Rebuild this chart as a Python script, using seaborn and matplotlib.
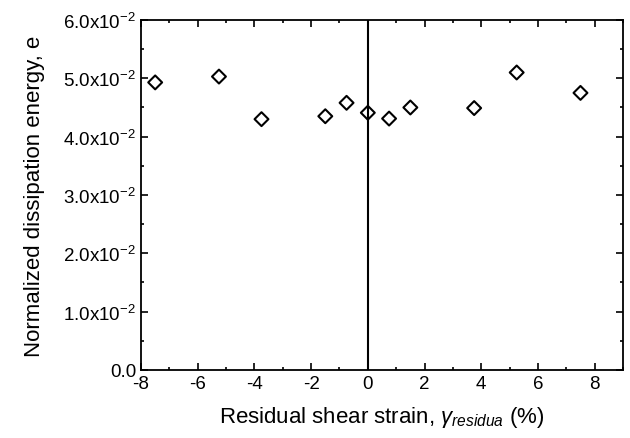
import numpy as np
import pandas as pd
import matplotlib
matplotlib.use("Agg")
import matplotlib.pyplot as plt
import seaborn as sns
from matplotlib.ticker import MultipleLocator, FuncFormatter

# residual shear strain (%) and normalized dissipation energy
strain = [-7.5, -5.25, -3.75, -1.5, -0.75, 0.0, 0.75, 1.5, 3.75, 5.25, 7.5]
energy = [0.0493, 0.0503, 0.0430, 0.0435, 0.0458, 0.0441, 0.0431, 0.0450, 0.0449, 0.0510, 0.0475]

df = pd.DataFrame({"strain": strain, "energy": energy})

sns.set_style("ticks")
plt.rcParams["font.family"] = ["Liberation Sans", "DejaVu Sans"]
plt.rcParams["mathtext.fontset"] = "custom"
plt.rcParams["mathtext.rm"] = "Liberation Sans"
plt.rcParams["mathtext.it"] = "Liberation Sans:italic"
plt.rcParams["axes.unicode_minus"] = False

fig = plt.figure(figsize=(6.3, 4.39), dpi=100)
ax = fig.add_axes([0.2238, 0.1549, 0.7651, 0.7973])

ax.axvline(0, color="black", lw=1.5, zorder=1)
sns.scatterplot(data=df, x="strain", y="energy", marker="D", s=50,
                facecolor="none", edgecolor="black", linewidth=1.5, ax=ax, zorder=3)

ax.set_xlim(-8, 9)
ax.set_ylim(0, 0.06)
ax.xaxis.set_major_locator(MultipleLocator(2))
ax.xaxis.set_minor_locator(MultipleLocator(1))
ax.yaxis.set_major_locator(MultipleLocator(0.01))
ax.yaxis.set_minor_locator(MultipleLocator(0.005))


def yfmt(v, pos):
    if abs(v) < 1e-9:
        return "0.0"
    return "%.1fx10$^{-2}$" % (v * 100)


ax.yaxis.set_major_formatter(FuncFormatter(yfmt))
ax.tick_params(which="both", direction="in", top=True, right=True, width=1.2,
               labelsize=13.5, color="black", labelcolor="black")
ax.tick_params(which="major", length=5)
ax.tick_params(which="minor", length=2.5)
for sp in ax.spines.values():
    sp.set_linewidth(1.3)
    sp.set_color("black")

ax.set_xlabel(r"Residual shear strain, $\gamma_{residua}$ (%)", fontsize=16, labelpad=9, color="black")
ax.set_ylabel("Normalized dissipation energy, e", fontsize=16, labelpad=13, color="black")

fig.savefig("out.png", dpi=100)
